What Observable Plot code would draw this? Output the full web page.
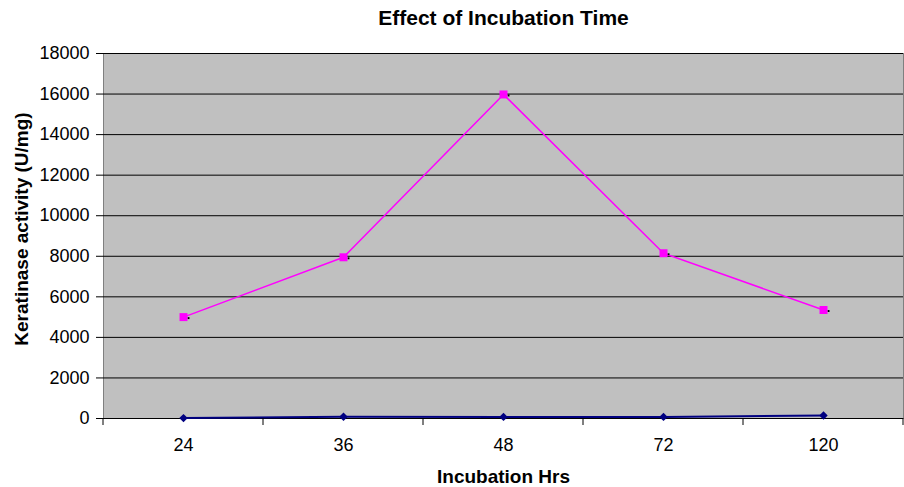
<!DOCTYPE html>
<html>
<head>
<meta charset="utf-8">
<script src="https://cdn.jsdelivr.net/npm/d3@7"></script>
<script src="https://cdn.jsdelivr.net/npm/@observablehq/plot@0.6"></script>
<style>
  html, body { margin: 0; padding: 0; background: #fff; }
</style>
</head>
<body>
<div id="chart"></div>
<script>
// Data
const hours = ["24", "36", "48", "72", "120"];
const seriesA = [5000, 7950, 15980, 8150, 5350];   // magenta squares
const seriesB = [20, 90, 80, 80, 150];              // navy diamonds
const yTicks = [0, 2000, 4000, 6000, 8000, 10000, 12000, 14000, 16000, 18000];
const titleText = "Effect of Incubation Time";
const xLabel = "Incubation Hrs";
const yLabel = "Keratinase activity (U/mg)";

const rowsA = hours.map((h, i) => ({hour: h, value: seriesA[i]}));
const rowsB = hours.map((h, i) => ({hour: h, value: seriesB[i]}));

const chart = Plot.plot({
  width: 904,
  height: 487,
  marginLeft: 103,
  marginRight: 1,
  marginTop: 53,
  marginBottom: 69,
  style: {fontFamily: "Arial, 'Liberation Sans', sans-serif", fontSize: "18px", color: "#000", background: "#fff"},
  x: {type: "point", domain: hours, padding: 0.5, label: null},
  y: {domain: [0, 18000], ticks: yTicks, label: null},
  marks: [
    Plot.frame({fill: "#c0c0c0", stroke: "#808080"}),
    Plot.ruleY(yTicks.filter(d => d > 0), {stroke: "#000", strokeWidth: 1}),
    Plot.axisY({ticks: yTicks, tickSize: 7, tickPadding: 7, tickFormat: d => String(d), label: null, fontSize: 18}),
    Plot.axisX({tickSize: 0, tickPadding: 20, label: null, fontSize: 18}),
    Plot.ruleX([0], {frameAnchor: "left", stroke: "#000"}),
    Plot.ruleY([0], {stroke: "#000"}),
    Plot.line(rowsA, {x: "hour", y: "value", stroke: "#ff00ff", strokeWidth: 1.5}),
    Plot.dot(rowsA, {x: "hour", y: "value", symbol: "square", fill: "#000", r: 1.1, dx: 5, dy: 1}),
    Plot.dot(rowsA, {x: "hour", y: "value", symbol: "square", fill: "#ff00ff", r: 4.5}),
    Plot.line(rowsB, {x: "hour", y: "value", stroke: "#000080", strokeWidth: 2}),
    Plot.dot(rowsB, {x: "hour", y: "value", symbol: "diamond2", fill: "#000080", r: 3.8}),
    Plot.text([titleText], {frameAnchor: "top", lineAnchor: "middle", dy: -35, fontWeight: "bold", fontSize: 21}),
    Plot.text([xLabel], {frameAnchor: "bottom", lineAnchor: "middle", dy: 58, fontWeight: "bold", fontSize: 19}),
    Plot.text([yLabel], {frameAnchor: "left", textAnchor: "middle", lineAnchor: "middle", dx: -82, dy: -7, rotate: -90, fontWeight: "bold", fontSize: 19})
  ]
});

// Category boundary tick marks on the x axis, derived from the x scale
const xs = chart.scale("x");
const pos = hours.map(h => xs.apply(h));
const step = pos.length > 1 ? pos[1] - pos[0] : 0;
const bounds = [pos[0] - step / 2, ...pos.map(p => p + step / 2)];
const ys = chart.scale("y");
const y0 = ys.apply(0);
const g = d3.select(chart).append("g").attr("stroke", "#000");
g.selectAll("line").data(bounds).join("line")
  .attr("x1", d => d).attr("x2", d => d)
  .attr("y1", y0).attr("y2", y0 + 7);

document.getElementById("chart").appendChild(chart);
</script>
</body>
</html>
